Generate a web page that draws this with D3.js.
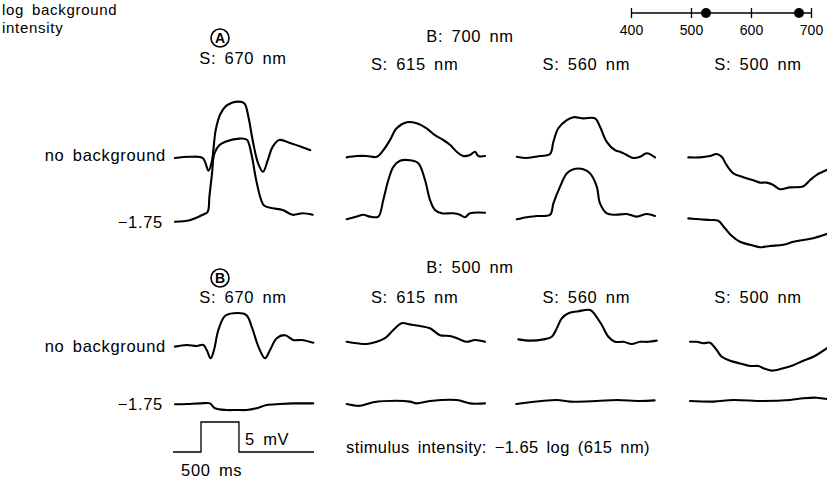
<!DOCTYPE html>
<html>
<head>
<meta charset="utf-8">
<script src="https://cdn.jsdelivr.net/npm/d3@7"></script>
<style>
  body { margin: 0; background: #fff; }
  svg text { font-family: "Liberation Sans", Arial, sans-serif; fill: #000; }
  .lbl { font-size: 16.5px; letter-spacing: 0.7px; word-spacing: 3px; }
  .trace { fill: none; stroke: #000; stroke-width: 2.1; stroke-linejoin: round; stroke-linecap: round; }
</style>
</head>
<body>
<script>
// stimulus wavelengths (columns)
var stimuli = ["670", "615", "560", "500"]
// background wavelengths marked on the spectrum bar
var bgWave = [525, 680]
var waveTicks = [400, 500, 600, 700]

// traces: [time ms, potential mV]
// background 700 nm, no background
var a0_670 = [[26,0],[219,0.2],[390,0],[467,-2.1],[510,-0.6],[562,4.7],[626,7.4],[711,8.8],[861,9.4],[939,9.1],[990,6.9],[1054,2.5],[1119,-0.9],[1183,-2.3],[1247,-0.3],[1311,1.9],[1397,3.0],[1547,2.45],[1675,1.9],[1804,1.3]]
var a0_615 = [[26,0.1],[158,0.33],[289,0.33],[421,0.2],[508,1.3],[596,3.0],[683,4.95],[815,5.95],[946,5.8],[1077,4.95],[1187,3.8],[1296,3.0],[1384,2.2],[1472,1.05],[1559,0.33],[1647,0.5],[1713,1.05],[1757,0.33],[1845,0.33]]
var a0_560 = [[5,0.2],[137,0],[312,0.33],[443,0.67],[487,2.7],[552,4.95],[663,6.3],[750,6.8],[881,6.6],[1035,6.6],[1100,5.2],[1188,2.7],[1297,1.3],[1363,1.05],[1451,0.5],[1538,0],[1626,0.2],[1714,0.8],[1823,0.1]]
var a0_500 = [[4,0.1],[158,0.1],[289,0.33],[377,0.67],[443,0.2],[508,-1.2],[596,-2.55],[727,-3.2],[858,-3.7],[946,-4.1],[1034,-4.1],[1121,-4.5],[1209,-5.2],[1340,-4.9],[1516,-4.7],[1603,-3.7],[1691,-2.8],[1822,-2.0]]
// background 700 nm, -1.75 log
var a1_670 = [[26,0.05],[219,0.3],[390,1.2],[456,1.7],[478,4.2],[513,8.1],[543,11.4],[608,12.8],[696,13.4],[876,13.9],[971,13.7],[1029,11.4],[1093,7.0],[1158,3.7],[1201,2.7],[1310,2.3],[1441,2.0],[1572,1.2],[1703,1.45],[1835,1.2]]
var a1_615 = [[26,0.45],[158,0.9],[245,1.2],[333,0.9],[442,0.9],[508,3.7],[574,7.0],[640,9.2],[727,10.2],[858,10.3],[968,9.8],[1056,7.0],[1121,3.7],[1187,2.0],[1275,1.45],[1428,1.45],[1515,1.2],[1581,0.8],[1647,1.45],[1845,1.55]]
var a1_560 = [[5,0.45],[137,0.8],[268,1.0],[443,1.2],[487,3.1],[575,5.9],[663,8.1],[750,8.8],[881,8.8],[969,8.1],[1057,5.9],[1100,3.1],[1188,1.45],[1297,1.2],[1451,1.33],[1582,0.9],[1714,1.33],[1823,1.0]]
var a1_500 = [[4,0.6],[158,0.45],[289,0.33],[398,0.2],[486,-1.05],[574,-2.3],[683,-3.3],[815,-3.8],[946,-4.2],[1078,-4.0],[1252,-3.8],[1384,-3.3],[1515,-3.0],[1647,-2.7],[1822,-2.0]]
// background 500 nm, no background
var b0_670 = [[26,-0.1],[180,0.17],[311,0],[399,0.17],[443,-0.67],[496,-2.05],[539,-0.67],[596,2.67],[683,5.0],[793,5.45],[960,5.2],[1035,3.2],[1122,-0.1],[1209,-2.05],[1275,-0.67],[1363,1.3],[1472,1.8],[1581,1.0],[1691,1.0],[1844,0.55]]
var b0_615 = [[26,0.7],[158,0.45],[289,0.33],[421,0.7],[530,1.3],[640,2.67],[749,3.8],[858,3.6],[990,3.33],[1121,2.95],[1253,1.8],[1384,1.67],[1515,1.1],[1603,0.7],[1713,1.0],[1845,0.7]]
var b0_560 = [[26,1.1],[180,0.9],[355,1.1],[466,1.55],[532,2.95],[597,4.6],[685,5.45],[816,5.8],[970,6.0],[1035,5.2],[1123,3.5],[1210,1.55],[1297,0.7],[1407,0.7],[1517,0.33],[1626,0.7],[1735,0.7],[1846,0.9]]
var b0_500 = [[26,0.7],[114,0.7],[202,0.45],[289,0.55],[377,-0.67],[443,-1.8],[552,-2.45],[683,-2.9],[815,-3.33],[924,-3.33],[990,-3.7],[1100,-4.1],[1253,-3.7],[1384,-3.2],[1516,-2.45],[1647,-1.8],[1822,-0.4]]
// background 500 nm, -1.75 log
var b1_670 = [[26,-0.05],[180,0],[355,0.1],[486,0.1],[552,-0.7],[705,-1.0],[837,-1.0],[968,-1.0],[1100,-0.7],[1231,-0.17],[1406,0],[1581,0.1],[1844,0.1]]
var b1_615 = [[26,0],[201,-0.3],[376,0.3],[683,0.55],[858,0.4],[946,0.1],[1121,0.5],[1472,0.67],[1647,0.1],[1845,0.1]]
var b1_560 = [[0,0],[179,0.3],[530,0.67],[705,0.4],[1056,0.5],[1319,0.67],[1621,0.5],[1818,0.6]]
var b1_500 = [[26,0.5],[333,0.4],[596,0.67],[990,0.5],[1340,0.67],[1515,0.95],[1691,1.05],[1840,0.8]]

// stimulus monitor for the scale bar
var stimPulse = [[0,0],[368,0],[368,5],[867,5],[867,0],[1853,0]]

var w = 827
var h = 481

var svg = d3.select("body").append("svg")
            .attr("width", w)
            .attr("height", h)

// time and voltage scales
var xScale = d3.scaleLinear().domain([0, 1840]).range([0, 140])
var yScale = d3.scaleLinear().domain([0, 1]).range([0, -6])
var colX = d3.scalePoint().domain(stimuli).range([173, 688])

var line = d3.line()
             .x(function(d) { return xScale(d[0]) })
             .y(function(d) { return yScale(d[1]) })
             .curve(d3.curveCatmullRom.alpha(0.5))

var rows = [
  {base: 158, data: [a0_670, a0_615, a0_560, a0_500]},
  {base: 222, data: [a1_670, a1_615, a1_560, a1_500]},
  {base: 346, data: [b0_670, b0_615, b0_560, b0_500]},
  {base: 404, data: [b1_670, b1_615, b1_560, b1_500]}
]

rows.forEach(function(r) {
  r.data.forEach(function(tr, i) {
    svg.append("path")
       .attr("class", "trace")
       .attr("transform", "translate(" + colX(stimuli[i]) + "," + r.base + ")")
       .attr("d", line(tr))
  })
})

// row labels
function label(x, y, txt, anchor) {
  return svg.append("text")
            .attr("class", "lbl")
            .attr("x", x)
            .attr("y", y)
            .attr("text-anchor", anchor || "start")
            .text(txt)
}

label(2, 15, "log background").style("font-size", "15px")
label(2, 33, "intensity").style("font-size", "15px")
label(166, 161, "no background", "end")
label(163, 228, "\u22121.75", "end")
label(166, 352, "no background", "end")
label(163, 410, "\u22121.75", "end")

// panel headings
label(470, 42, "B: 700 nm", "middle")
label(470, 273, "B: 500 nm", "middle")
var headY = [64, 70, 70, 70]
stimuli.forEach(function(s, i) {
  label(colX(s) + 70, headY[i], "S: " + s + " nm", "middle")
  label(colX(s) + 70, 303, "S: " + s + " nm", "middle")
})

// circled panel letters
function circled(cx, cy, txt) {
  svg.append("circle")
     .attr("cx", cx).attr("cy", cy).attr("r", 9)
     .attr("fill", "none").attr("stroke", "#000").attr("stroke-width", 1.6)
  svg.append("text")
     .attr("x", cx).attr("y", cy + 5)
     .attr("text-anchor", "middle")
     .style("font-size", "14px")
     .style("font-weight", "bold")
     .text(txt)
}
circled(220, 38, "A")
circled(220, 278, "B")

// scale bar
svg.append("path")
   .attr("transform", "translate(" + colX(stimuli[0]) + ",452)")
   .attr("d", d3.line()
                .x(function(d) { return xScale(d[0]) })
                .y(function(d) { return yScale(d[1]) })(stimPulse))
   .attr("fill", "none")
   .attr("stroke", "#000")
   .attr("stroke-width", 1.3)
label(245, 445, "5 mV")
label(181, 476, "500 ms")
label(346, 453, "stimulus intensity: \u22121.65 log (615 nm)").style("letter-spacing", "0.4px")

// spectrum bar
var wScale = d3.scaleLinear().domain([400, 700]).range([631, 811])
var axis = svg.append("g")
              .attr("transform", "translate(0,13)")
              .call(d3.axisBottom(wScale).tickValues(waveTicks).tickSize(5).tickPadding(7))
axis.select(".domain").remove()
axis.append("line")
    .attr("x1", wScale(400)).attr("x2", wScale(700))
    .attr("stroke", "#000").attr("stroke-width", 1.3)
axis.selectAll(".tick line").attr("y1", -5).attr("y2", 5).attr("stroke", "#000").attr("stroke-width", 1.3)
axis.selectAll(".tick text")
    .style("font-family", "Liberation Sans, Arial, sans-serif")
    .style("font-size", "14px")
    .attr("fill", "#000")
axis.selectAll(".dot")
    .data(bgWave)
    .enter()
    .append("circle")
    .attr("cx", function(d) { return wScale(d) })
    .attr("cy", 0)
    .attr("r", 5)
    .attr("fill", "#000")
</script>
</body>
</html>
